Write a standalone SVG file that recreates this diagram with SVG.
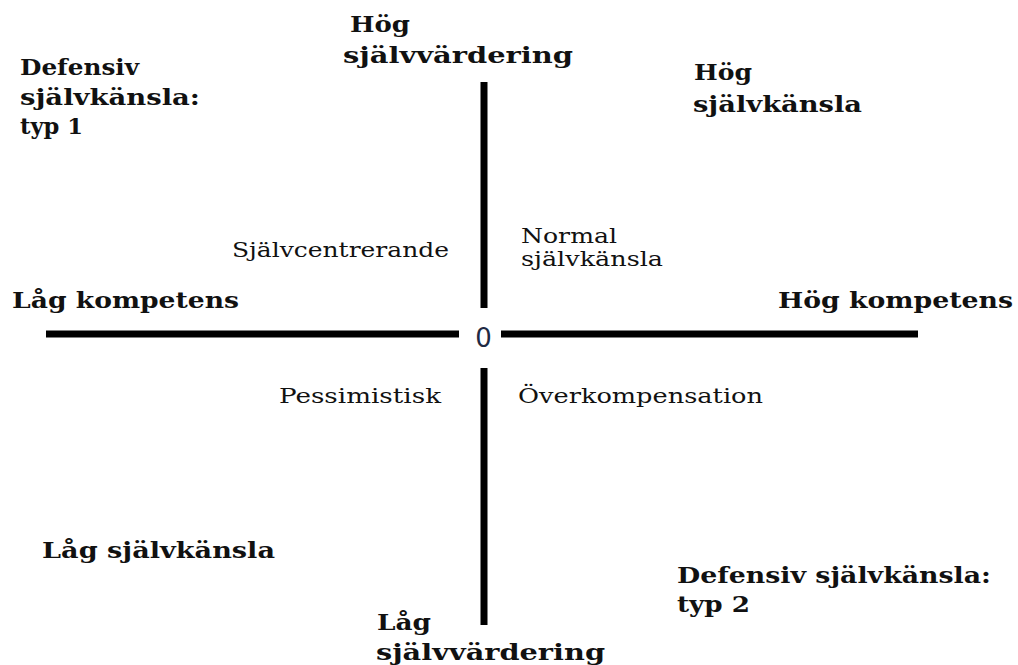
<svg xmlns="http://www.w3.org/2000/svg" width="1018" height="665" viewBox="0 0 1018 665">
<style>
.b{font-family:"DejaVu Serif","Liberation Serif",serif;font-weight:bold;font-size:22px;fill:#111}
.r{font-family:"DejaVu Serif","Liberation Serif",serif;font-size:21px;fill:#111}
.z{font-family:"DejaVu Sans","Liberation Sans",sans-serif;font-size:26px;fill:#1f2a44}
.ax{stroke:#000;stroke-width:7;fill:none}
</style>
<rect width="1018" height="665" fill="#fff"/>
<g id="connectors">
<line class="ax" x1="46" y1="334" x2="459" y2="334"/>
<line class="ax" x1="501" y1="334" x2="918" y2="334"/>
<line class="ax" x1="484" y1="82" x2="484" y2="308"/>
<line class="ax" x1="484" y1="368" x2="484" y2="625"/>
</g>
<g id="origin"><text class="z" x="483.5" y="347" text-anchor="middle">0</text></g>
<g id="hog-sjalvvardering"><text class="b" x="350" y="32" textLength="60" lengthAdjust="spacingAndGlyphs">Hög</text><text class="b" x="343" y="63" textLength="230" lengthAdjust="spacingAndGlyphs">självvärdering</text></g>
<g id="defensiv-typ1"><text class="b" x="20" y="75" textLength="119" lengthAdjust="spacingAndGlyphs">Defensiv</text><text class="b" x="20" y="105" textLength="180" lengthAdjust="spacingAndGlyphs">självkänsla:</text><text class="b" x="20" y="134" textLength="63" lengthAdjust="spacingAndGlyphs">typ 1</text></g>
<g id="hog-sjalvkansla"><text class="b" x="694" y="80" textLength="58" lengthAdjust="spacingAndGlyphs">Hög</text><text class="b" x="693" y="112" textLength="169" lengthAdjust="spacingAndGlyphs">självkänsla</text></g>
<g id="sjalvcentrerande"><text class="r" x="232" y="257" textLength="217" lengthAdjust="spacingAndGlyphs">Självcentrerande</text></g>
<g id="normal"><text class="r" x="521" y="243" textLength="96" lengthAdjust="spacingAndGlyphs">Normal</text><text class="r" x="521" y="266" textLength="142" lengthAdjust="spacingAndGlyphs">självkänsla</text></g>
<g id="lag-kompetens"><text class="b" x="12" y="308" textLength="227" lengthAdjust="spacingAndGlyphs">Låg kompetens</text></g>
<g id="hog-kompetens"><text class="b" x="778" y="308" textLength="235" lengthAdjust="spacingAndGlyphs">Hög kompetens</text></g>
<g id="pessimistisk"><text class="r" x="279" y="403" textLength="162" lengthAdjust="spacingAndGlyphs">Pessimistisk</text></g>
<g id="overkompensation"><text class="r" x="518" y="403" textLength="245" lengthAdjust="spacingAndGlyphs">Överkompensation</text></g>
<g id="lag-sjalvkansla"><text class="b" x="42" y="558" textLength="233" lengthAdjust="spacingAndGlyphs">Låg självkänsla</text></g>
<g id="defensiv-typ2"><text class="b" x="677" y="583" textLength="314" lengthAdjust="spacingAndGlyphs">Defensiv självkänsla:</text><text class="b" x="677" y="612" textLength="73" lengthAdjust="spacingAndGlyphs">typ 2</text></g>
<g id="lag-sjalvvardering"><text class="b" x="377" y="630" textLength="54" lengthAdjust="spacingAndGlyphs">Låg</text><text class="b" x="376" y="660" textLength="229" lengthAdjust="spacingAndGlyphs">självvärdering</text></g>
</svg>
